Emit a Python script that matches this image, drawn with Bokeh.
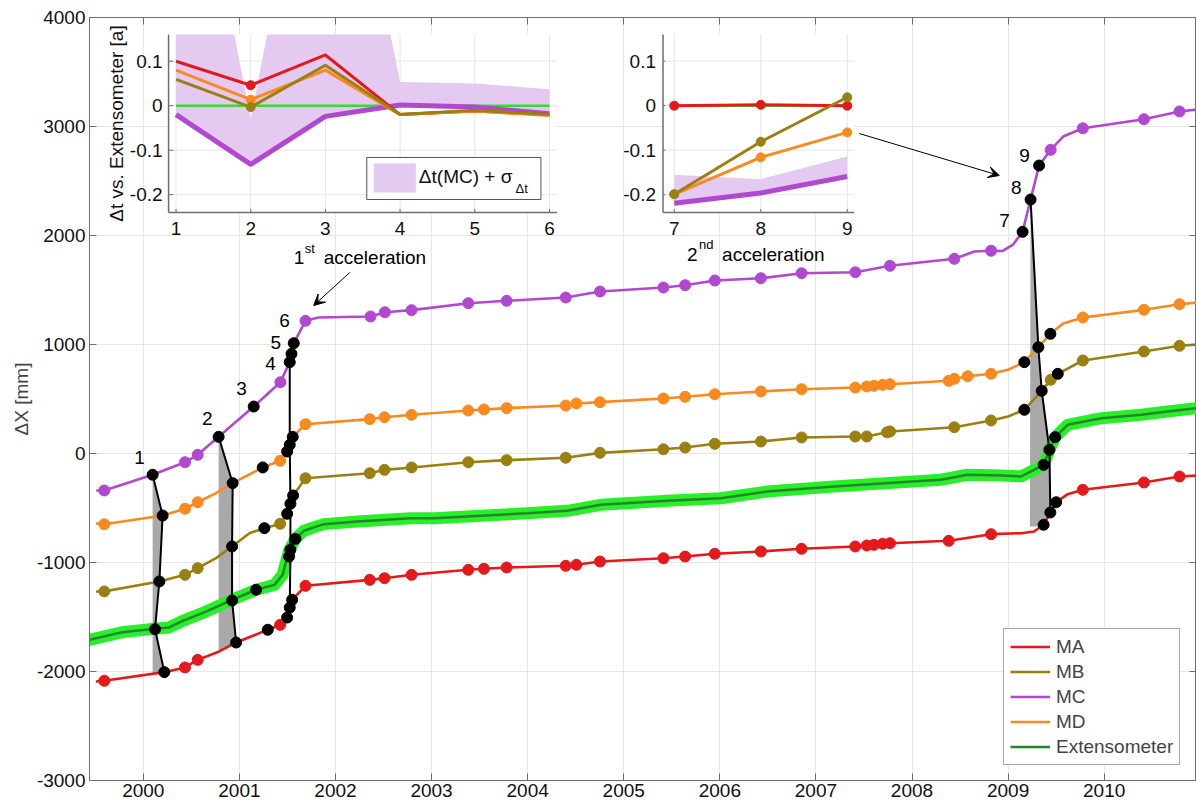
from bokeh.plotting import figure
from bokeh.models import Range1d, LinearAxis, FixedTicker, Legend, LegendItem, Arrow, VeeHead
from bokeh.core.properties import value
from bokeh.embed import file_html
from bokeh.resources import INLINE

FONT = "Liberation Sans"
FS = "19px"

# ---------------- colours ----------------
C_MA = "#e31a1c"
C_MB = "#9a8012"
C_MC = "#b048d0"
C_MD = "#f98a1f"
C_EXT_BAND = "#2aee2a"
C_EXT_LINE = "#22862a"
C_BAND = "#e4c9f0"
AX = "#6e6e6e"
GRID = "#e6e6e6"

# ---------------- axes ticks ----------------
x_ticks = [2000, 2001, 2002, 2003, 2004, 2005, 2006, 2007, 2008, 2009, 2010]
x_tick_labels = ["2000", "2001", "2002", "2003", "2004", "2005", "2006", "2007", "2008", "2009", "2010"]
y_ticks = [-3000, -2000, -1000, 0, 1000, 2000, 3000, 4000]
y_tick_labels = ["-3000", "-2000", "-1000", "0", "1000", "2000", "3000", "4000"]

# ---------------- main data (year, mm) ----------------
# MC
mc_mark_t = [1999.594, 2000.434, 2000.566, 2001.427, 2001.688, 2002.365, 2002.514, 2002.792, 2003.382,
             2003.781, 2004.396, 2004.753, 2005.413, 2005.639, 2005.948, 2006.427, 2006.851, 2007.410,
             2007.771, 2008.440, 2008.823, 2009.443, 2009.778, 2010.414, 2010.784]
mc_mark_v = [-339, -80, -12, 654, 1217, 1257, 1296, 1315, 1379, 1401, 1431, 1486, 1523, 1544, 1587,
             1608, 1654, 1663, 1722, 1786, 1860, 2786, 2984, 3067, 3138]
mc_evt_t = [2000.097, 2000.784, 2001.149, 2001.524, 2001.542, 2001.566, 2009.151, 2009.234, 2009.323]
mc_evt_v = [-195, 153, 431, 838, 915, 1012, 2034, 2330, 2642]
mc_extra_t = [1999.51, 2001.823, 2008.65, 2008.944, 2009.052, 2009.573, 2010.97]
mc_extra_v = [-339, 1248, 1853, 1858, 1917, 2908, 3156]

# MD
md_mark_t = [1999.594, 2000.434, 2000.566, 2001.424, 2001.688, 2002.357, 2002.510, 2002.792, 2003.382,
             2003.545, 2003.781, 2004.396, 2004.507, 2004.753, 2005.413, 2005.639, 2005.948, 2006.427,
             2006.851, 2007.410, 2007.529, 2007.604, 2007.694, 2007.771, 2008.382, 2008.440, 2008.580,
             2008.823, 2009.778, 2010.414, 2010.784]
md_mark_v = [-649, -507, -447, -67, 269, 315, 333, 355, 394, 404, 416, 440, 459, 471, 505, 520, 544,
             569, 590, 605, 615, 621, 630, 636, 667, 685, 709, 731, 1248, 1318, 1370]
md_evt_t = [2000.201, 2000.930, 2001.243, 2001.497, 2001.524, 2001.555, 2009.169, 2009.315, 2009.440]
md_evt_v = [-569, -272, -128, 18, 80, 153, 838, 975, 1098]
md_extra_t = [1999.507, 2000.757, 2009.0, 2009.573, 2010.97]
md_extra_v = [-642, -364, 768, 1193, 1385]

# MB
mb_mark_t = [1999.594, 2000.434, 2000.566, 2001.424, 2001.688, 2002.357, 2002.510, 2002.792, 2003.382,
             2003.781, 2004.396, 2004.753, 2005.413, 2005.639, 2005.948, 2006.427, 2006.851, 2007.410,
             2007.529, 2007.740, 2007.771, 2008.440, 2008.823, 2009.443, 2009.778, 2010.414, 2010.784]
mb_mark_v = [-1265, -1113, -1052, -645, -227, -181, -150, -128, -80, -61, -39, 6, 39, 55, 89, 110,
             147, 156, 156, 195, 202, 241, 303, 676, 853, 936, 988]
mb_evt_t = [2000.167, 2000.924, 2001.260, 2001.497, 2001.531, 2001.559, 2009.169, 2009.350, 2009.517]
mb_evt_v = [-1174, -853, -685, -553, -461, -385, 401, 575, 731]
mb_extra_t = [1999.507, 2000.757, 2001.104, 2009.0, 2010.97]
mb_extra_v = [-1266, -960, -731, 339, 1000]

# MA
ma_mark_t = [1999.594, 2000.434, 2000.566, 2001.424, 2001.688, 2002.357, 2002.510, 2002.792, 2003.382,
             2003.545, 2003.781, 2004.396, 2004.507, 2004.753, 2005.413, 2005.639, 2005.948, 2006.427,
             2006.851, 2007.410, 2007.529, 2007.604, 2007.694, 2007.771, 2008.382, 2008.823, 2009.778,
             2010.414, 2010.784]
ma_mark_v = [-2085, -1963, -1893, -1572, -1214, -1159, -1144, -1113, -1067, -1058, -1046, -1030, -1021,
             -991, -961, -945, -920, -899, -874, -853, -844, -838, -828, -823, -801, -740, -333, -266, -211]
ma_evt_t = [2000.219, 2000.966, 2001.295, 2001.497, 2001.524, 2001.549, 2009.370, 2009.440, 2009.500]
ma_evt_v = [-2006, -1734, -1617, -1505, -1413, -1342, -654, -541, -447]
ma_extra_t = [1999.507, 2000.79, 2009.135, 2009.27, 2009.62, 2010.97]
ma_extra_v = [-2092, -1816, -731, -716, -373, -202]

# Extensometer
ext_t = [1999.44, 1999.785, 2000.115, 2000.27, 2000.41, 2000.653, 2000.924, 2001.174, 2001.365, 2001.45,
         2001.486, 2001.52, 2001.583, 2001.67, 2001.878, 2002.226, 2002.78, 2003.024, 2003.997, 2004.413,
         2004.76, 2005.455, 2006.01, 2006.49, 2007.19, 2007.885, 2008.3, 2008.58, 2008.927, 2009.135,
         2009.27, 2009.37, 2009.43, 2009.49, 2009.62, 2009.97, 2010.385, 2010.66, 2010.97]
ext_v = [-1709, -1639, -1608, -1596, -1535, -1450, -1342, -1250, -1205, -1113, -991, -884, -783, -709,
         -648, -624, -594, -594, -548, -526, -471, -434, -410, -349, -303, -263, -241, -195, -202, -211,
         -150, -104, 34, 150, 263, 324, 355, 385, 416]
ext_evt_t = [2000.122, 2000.924, 2001.174, 2001.517, 2001.531, 2001.583, 2009.370, 2009.430, 2009.490]
ext_evt_v = [-1612, -1349, -1250, -945, -883, -783, -104, 34, 150]

# event connection lines: index of event used per series (MC, MD, MB, EXT, MA)
link_idx = [(0, 0, 0, 0, 0), (1, 1, 1, 1, 1), (3, 4, 4, 4, 4), (7, 7, 7, 7, 7)]
# grey lag areas: closing points read below each link
grey_links = [0, 1, 3]
grey_close_t = [[2000.097], [2000.784], [2009.370, 2009.227]]
grey_close_v = [[-2015], [-1816], [-670, -670]]

# event labels
evt_lab = ["1", "2", "3", "4", "5", "6", "7", "8", "9"]
evt_lab_t = [1999.961, 2000.666, 2001.023, 2001.325, 2001.378, 2001.471, 2008.964, 2009.086, 2009.172]
evt_lab_v = [-34, 318, 594, 823, 1021, 1220, 2138, 2443, 2734]

# ---------------- inset data (Δt in years) ----------------
in1_x = [1, 2, 3, 4, 5, 6]
in1_ma = [0.100, 0.046, 0.114, -0.020, -0.012, -0.020]
in1_mb = [0.059, -0.003, 0.091, -0.020, -0.010, -0.020]
in1_mc = [-0.020, -0.132, -0.024, 0.0015, -0.003, -0.018]
in1_md = [0.080, 0.0135, 0.080, -0.020, -0.012, -0.022]
in1_ext = [0, 0, 0, 0, 0, 0]
in1_band_x = [1, 1.78, 2, 2.22, 3.87, 4, 5, 6]
in1_band_up = [0.16, 0.16, -0.03, 0.16, 0.16, 0.053, 0.05, 0.037]
in1_dot_x = [2]

in2_x = [7, 8, 9]
in2_ma = [0.0, 0.002, 0.0]
in2_mb = [-0.199, -0.081, 0.019]
in2_mc = [-0.219, -0.196, -0.159]
in2_md = [-0.199, -0.116, -0.060]
in2_ext = [0, 0, 0]
in2_band_up = [-0.155, -0.165, -0.114]

in_yticks = [-0.2, -0.1, 0.0, 0.1]
in_ytick_labels = ["-0.2", "-0.1", "0", "0.1"]
in1_xtick_labels = ["1", "2", "3", "4", "5", "6"]
in2_xtick_labels = ["7", "8", "9"]


def yr(px):
    return 1999.44 + (px - 89) / 96.0


def val(py):
    return 4000 - (py - 17) * 7000 / 763.0


def curve(ts, vs):
    pts = sorted(zip(sum(ts, []), sum(vs, [])))
    return [a for a, _ in pts], [b for _, b in pts]


p = figure(width=1196, height=807, output_backend="svg", toolbar_location=None,
           x_range=Range1d(1999.44, yr(1195)), y_range=Range1d(-3000, 4000),
           min_border_left=89, min_border_right=0, min_border_top=17, min_border_bottom=27)
p.background_fill_color = "white"
p.border_fill_color = "white"
p.outline_line_color = AX

xt = FixedTicker(ticks=x_ticks)
yt = FixedTicker(ticks=y_ticks)
for ax, tk, labs in ((p.xaxis[0], xt, x_tick_labels), (p.yaxis[0], yt, y_tick_labels)):
    ax.ticker = tk
    ax.major_label_overrides = dict(zip(tk.ticks, labs))
    ax.major_tick_in = 7
    ax.major_tick_out = 0
    ax.minor_tick_line_color = None
    ax.axis_line_color = AX
    ax.major_tick_line_color = AX
    ax.major_label_text_font = FONT
    ax.major_label_text_font_size = FS
    ax.major_label_text_color = "#111111"
p.xaxis.major_label_standoff = 3
p.yaxis.major_label_standoff = 4
p.yaxis.axis_label = "ΔX [mm]"
p.yaxis.axis_label_text_font = FONT
p.yaxis.axis_label_text_font_size = FS
p.yaxis.axis_label_text_font_style = "normal"
p.yaxis.axis_label_standoff = 2
p.xgrid.ticker = xt
p.ygrid.ticker = yt
p.grid.grid_line_color = GRID

for loc, tk in (("above", xt), ("right", yt)):
    ax = LinearAxis(ticker=tk, major_label_overrides={t: "" for t in tk.ticks},
                    major_label_text_color=None, major_label_text_font_size="0px",
                    major_tick_in=7, major_tick_out=0, minor_tick_line_color=None,
                    axis_line_color=AX, major_tick_line_color=AX, major_label_standoff=0)
    p.add_layout(ax, loc)

series = {
    "MC": (mc_evt_t, mc_evt_v), "MD": (md_evt_t, md_evt_v), "MB": (mb_evt_t, mb_evt_v),
    "EXT": (ext_evt_t, ext_evt_v), "MA": (ma_evt_t, ma_evt_v),
}
order = ["MC", "MD", "MB", "EXT", "MA"]

# grey lag areas
for li, ct, cv in zip(grey_links, grey_close_t, grey_close_v):
    idx = link_idx[li]
    xs = [series[s][0][i] for s, i in zip(order, idx)] + ct
    ys = [series[s][1][i] for s, i in zip(order, idx)] + cv
    p.patch(xs, ys, fill_color="#a9a9a9", line_color=None)

# extensometer
p.line(ext_t, ext_v, color=C_EXT_BAND, line_width=12, line_cap="round", line_join="round")
ext_r = p.line(ext_t, ext_v, color=C_EXT_LINE, line_width=2.5)

# series
rend = {}
for name, col, mt, mv, et, ev, xt_, xv_ in (
        ("MA", C_MA, ma_mark_t, ma_mark_v, ma_evt_t, ma_evt_v, ma_extra_t, ma_extra_v),
        ("MB", C_MB, mb_mark_t, mb_mark_v, mb_evt_t, mb_evt_v, mb_extra_t, mb_extra_v),
        ("MD", C_MD, md_mark_t, md_mark_v, md_evt_t, md_evt_v, md_extra_t, md_extra_v),
        ("MC", C_MC, mc_mark_t, mc_mark_v, mc_evt_t, mc_evt_v, mc_extra_t, mc_extra_v)):
    cx, cy = curve([mt, et, xt_], [mv, ev, xv_])
    rend[name] = p.line(cx, cy, color=col, line_width=2.6, line_join="round")
    p.scatter(mt, mv, size=11, fill_color=col, line_color=col)

# black links
for idx in link_idx:
    xs = [series[s][0][i] for s, i in zip(order, idx)]
    ys = [series[s][1][i] for s, i in zip(order, idx)]
    p.line(xs, ys, color="black", line_width=2)

# black event dots
for s in order:
    p.scatter(series[s][0], series[s][1], size=11, fill_color="black", line_color="black")

# event labels
p.text(x=evt_lab_t, y=evt_lab_v, text=evt_lab, text_font=value(FONT), text_font_size=value(FS),
       text_align="center", text_baseline="middle", text_color="black")

# acceleration annotations
p.text(x=[yr(293), yr(323), yr(686), yr(721)], y=[val(257), val(257), val(254), val(254)],
       text=["1", "acceleration", "2", "acceleration"], text_font=value(FONT),
       text_font_size=value(FS), text_align="left", text_baseline="middle", text_color="black")
p.text(x=[yr(304), yr(698)], y=[val(248), val(244)], text=["st", "nd"], text_font=value(FONT),
       text_font_size=value("13px"), text_align="left", text_baseline="middle", text_color="black")
for (x0, y0, x1, y1) in ((349, 272, 313, 305), (858, 133, 998, 175)):
    p.add_layout(Arrow(end=VeeHead(size=11, fill_color="black", line_color="black"),
                       x_start=yr(x0), y_start=val(y0), x_end=yr(x1), y_end=val(y1),
                       line_color="black", line_width=1))

# legend
legend = Legend(items=[LegendItem(label="MA", renderers=[rend["MA"]]),
                       LegendItem(label="MB", renderers=[rend["MB"]]),
                       LegendItem(label="MC", renderers=[rend["MC"]]),
                       LegendItem(label="MD", renderers=[rend["MD"]]),
                       LegendItem(label="Extensometer", renderers=[ext_r])],
                location=(914, 15))
legend.label_text_font = FONT
legend.label_text_font_size = FS
legend.glyph_width = 40
legend.glyph_height = 23
legend.label_height = 23
legend.spacing = 2
legend.padding = 6
legend.margin = 0
legend.label_standoff = 6
legend.border_line_color = "#555555"
legend.background_fill_alpha = 1.0
p.add_layout(legend)


# ---------------- insets ----------------
def inset(x_lo, x_hi, px_lo, px_hi, xs, xlabs, ma, mb, mc, md, ext, band_x, band_up, dot_x,
          ylab_x):
    s = p.subplot(x_source=Range1d(x_lo, x_hi), y_source=Range1d(-0.24, 0.16),
                  x_target=Range1d(yr(px_lo), yr(px_hi)), y_target=Range1d(val(212), val(34)))
    s.quad(left=[x_lo], right=[x_hi], bottom=[-0.24], top=[0.16], fill_color="white", line_color=None)
    s.segment(x0=xs, y0=[-0.24] * len(xs), x1=xs, y1=[0.16] * len(xs), line_color=GRID, line_width=1)
    s.segment(x0=[x_lo] * 4, y0=in_yticks, x1=[x_hi] * 4, y1=in_yticks, line_color=GRID, line_width=1)
    s.patch(band_x + xs[::-1], band_up + mc[::-1], fill_color=C_BAND, line_color=None)
    s.line(xs, ext, color="#33dd33", line_width=2.5)
    s.line(xs, mc, color=C_MC, line_width=5)
    s.line(xs, ma, color=C_MA, line_width=3)
    s.line(xs, md, color=C_MD, line_width=3)
    s.line(xs, mb, color=C_MB, line_width=3)
    for col, arr in ((C_MA, ma), (C_MD, md), (C_MB, mb)):
        dy = [arr[xs.index(d)] for d in dot_x]
        s.scatter(dot_x, dy, size=9, fill_color=col, line_color=col)
    s.segment(x0=[x_lo, x_lo], y0=[-0.24, -0.24], x1=[x_lo, x_hi], y1=[0.16, -0.24],
              line_color=AX, line_width=1.5)
    s.segment(x0=[x_lo] * 4, y0=in_yticks, x1=[x_lo + (x_hi - x_lo) * 0.012] * 4, y1=in_yticks,
              line_color=AX, line_width=1)
    s.segment(x0=xs, y0=[-0.24] * len(xs), x1=xs, y1=[-0.232] * len(xs), line_color=AX, line_width=1)
    s.text(x=[ylab_x] * 4, y=in_yticks, text=in_ytick_labels, text_font=value(FONT),
           text_font_size=value(FS), text_align="right", text_baseline="middle", text_color="#111111")
    s.text(x=xs, y=[-0.276] * len(xs), text=xlabs, text_font=value(FONT), text_font_size=value(FS),
           text_align="center", text_baseline="middle", text_color="#111111")
    return s


s1 = inset(0.9, 6.1, 168, 556, in1_x, in1_xtick_labels, in1_ma, in1_mb, in1_mc, in1_md, in1_ext,
           in1_band_x, in1_band_up, in1_dot_x, 0.82)
s2 = inset(6.87, 9.08, 662, 853, in2_x, in2_xtick_labels, in2_ma, in2_mb, in2_mc, in2_md, in2_ext,
           in2_x, in2_band_up, in2_x, 6.789)

# inset 1 y label
s1.text(x=[0.203], y=[-0.04], text=["Δt vs. Extensometer [a]"], angle=1.5708, text_font=value(FONT),
        text_font_size=value(FS), text_align="center", text_baseline="middle", text_color="#111111")
# inset 1 legend
s1.quad(left=[3.554], right=[5.886], bottom=[-0.2108], top=[-0.1164], fill_color="white",
        line_color="#555555", line_width=1)
s1.quad(left=[3.648], right=[4.211], bottom=[-0.195], top=[-0.130], fill_color=C_BAND, line_color=None)
s1.text(x=[4.251], y=[-0.158], text=["Δt(MC) + σ"], text_font=value(FONT), text_font_size=value(FS),
        text_align="left", text_baseline="middle", text_color="#111111")
s1.text(x=[5.545], y=[-0.186], text=["Δt"], text_font=value(FONT), text_font_size=value("13px"),
        text_align="left", text_baseline="middle", text_color="#111111")

open("out.html", "w").write(file_html(p, INLINE))
